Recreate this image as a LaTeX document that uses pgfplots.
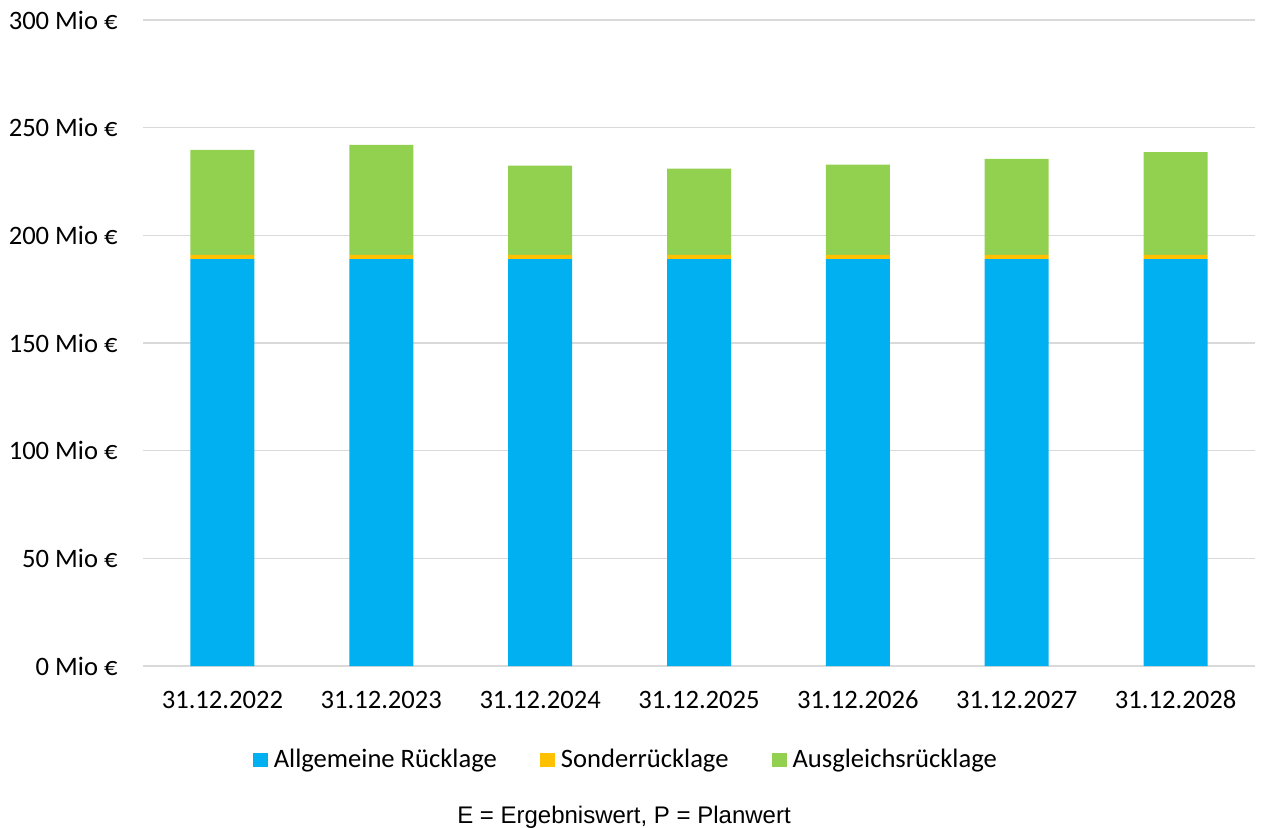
\documentclass[border=0pt]{standalone}
\usepackage{pgfplots}
\pgfplotsset{compat=1.18}
\usepackage{fontspec}
\setmainfont{Carlito}
\newfontfamily\arialfont{Liberation Sans}
\definecolor{cblue}{HTML}{00B0F0}
\definecolor{corange}{HTML}{FFC000}
\definecolor{cgreen}{HTML}{92D050}
\definecolor{cgrid}{HTML}{D9D9D9}
\begin{document}
\begin{tikzpicture}
\begin{axis}[
  at={(0,0)}, anchor=south west,
  scale only axis, width=556pt, height=323pt,
  ybar stacked, bar width=32pt,
  xmin=-0.5, xmax=6.5, ymin=0, ymax=300,
  xtick={0,...,6},
  xticklabels={31.12.2022,31.12.2023,31.12.2024,31.12.2025,31.12.2026,31.12.2027,31.12.2028},
  ytick={0,50,...,300},
  yticklabels={0 Mio €,50 Mio €,100 Mio €,150 Mio €,200 Mio €,250 Mio €,300 Mio €},
  major tick length=0pt,
  axis line style={draw=none},
  ymajorgrids, grid style={cgrid, line width=0.8pt},
  every tick label/.append style={font=\fontsize{13.3}{16}\selectfont, text=black},
  yticklabel style={anchor=east, inner sep=0pt, xshift=-12.5pt},
  xticklabel style={anchor=base, inner sep=0pt, yshift=-21pt},
  legend columns=3,
  legend style={draw=none, fill=none, at={(0.436,-0.1455)}, anchor=center,
    font=\fontsize{13.3}{16}\selectfont, inner sep=0pt,
    /tikz/every even column/.append style={column sep=18.5pt},
    nodes={inner sep=3pt}},
  legend image code/.code={\fill[#1, draw=none] (0pt,-3.5pt) rectangle (7.5pt,3.5pt);},
]
\addplot[fill=cblue, draw=none] coordinates {(0,189.0) (1,189.0) (2,189.0) (3,189.0) (4,189.0) (5,189.0) (6,189.0)};
\addplot[fill=corange, draw=none] coordinates {(0,1.9) (1,1.9) (2,1.9) (3,1.9) (4,1.9) (5,1.9) (6,1.9)};
\addplot[fill=cgreen, draw=none] coordinates {(0,48.8) (1,51.1) (2,41.5) (3,40.1) (4,41.9) (5,44.6) (6,47.7)};
\legend{Allgemeine Rücklage,Sonderrücklage,Ausgleichsrücklage}
\end{axis}
\node[anchor=base, inner sep=0pt, font=\arialfont\fontsize{12.0}{14}\selectfont] at (240.5pt,-78.5pt) {E = Ergebniswert, P = Planwert};
\pgfresetboundingbox
\useasboundingbox (-71.5pt,-80.5pt) rectangle (559pt,333pt);
\end{tikzpicture}
\end{document}
